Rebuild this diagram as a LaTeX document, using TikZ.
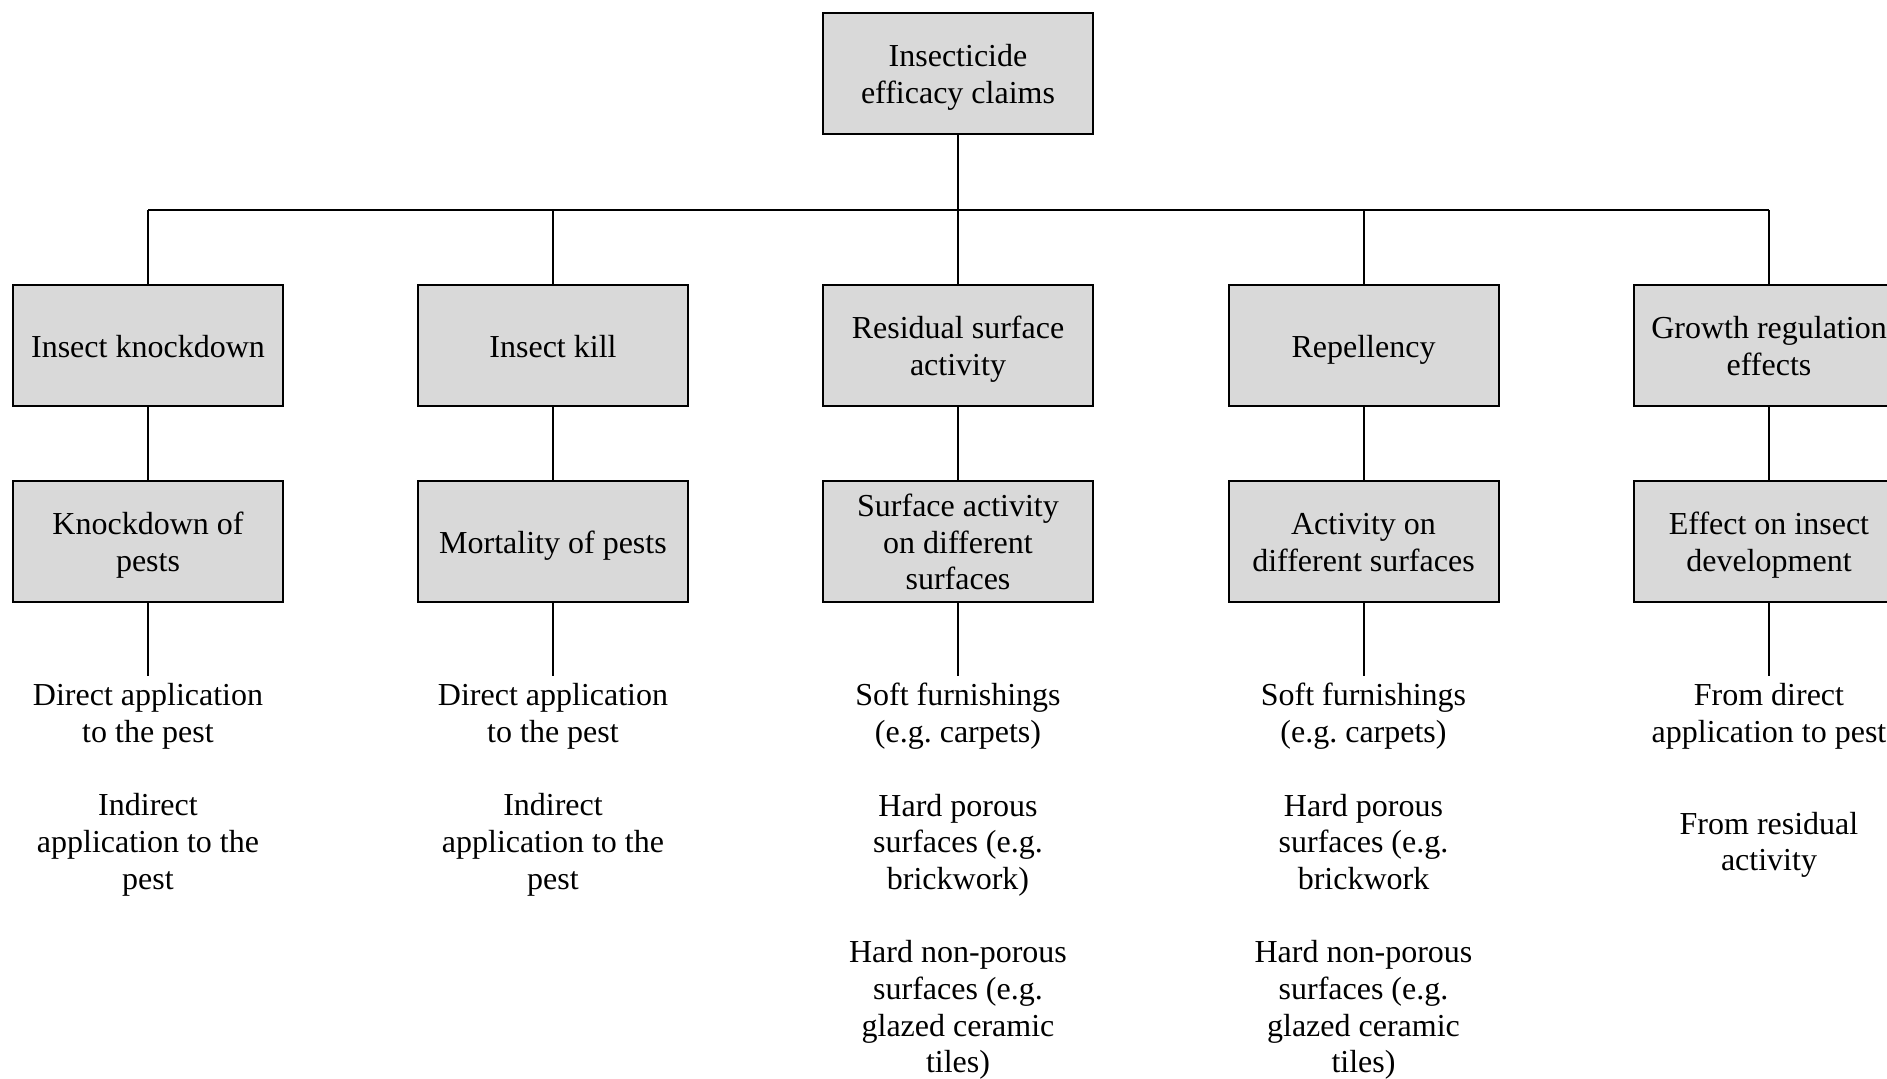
\documentclass[tikz,border=0pt]{standalone}
\usepackage{fontspec}
\setmainfont{Liberation Serif}
\frenchspacing
\newcommand{\topstrut}{\rule{0pt}{16pt}}
\newcommand{\ts}{\rule{0pt}{15.6pt}}
\newcommand{\botstrut}{\rule[-4pt]{0pt}{4pt}}
\begin{document}
\begin{tikzpicture}[x=0.5pt,y=-0.5pt,
  box/.style={draw=black, line width=1pt, fill=boxgray, minimum width=135pt, minimum height=60.5pt, align=center, inner sep=1.5pt, font=\fontsize{16}{18.4}\selectfont, execute at begin node=\topstrut, execute at end node=\botstrut},
  leaf/.style={align=center, inner xsep=0pt, inner ysep=3.5pt, anchor=north, font=\fontsize{16}{18.35}\selectfont},
  conn/.style={line width=1pt}]
\definecolor{boxgray}{HTML}{D9D9D9}
\useasboundingbox (0,0) rectangle (1887,1079);
% top
\node[box] (top) at (958,73.5) {\ts Insecticide\\efficacy claims\botstrut};
\coordinate (bar) at (958,210);
% level 1
\node[box] (a1) at (148,345.5) {Insect knockdown};
\node[box] (b1) at (553,345.5) {Insect kill};
\node[box] (c1) at (958,345.5) {\ts Residual surface\\activity\botstrut};
\node[box] (d1) at (1363.5,345.5) {Repellency};
\node[box] (e1) at (1769,345.5) {\ts Growth regulation\\effects\botstrut};
% level 2
\node[box] (a2) at (148,541.5) {\ts Knockdown of\\pests\botstrut};
\node[box] (b2) at (553,541.5) {Mortality of pests};
\node[box] (c2) at (958,541.5) {\ts Surface activity\\on different\\surfaces\botstrut};
\node[box] (d2) at (1363.5,541.5) {\ts Activity on\\different surfaces\botstrut};
\node[box] (e2) at (1769,541.5) {\ts Effect on insect\\development\botstrut};
% leaves
\node[leaf] (a3) at (148,676) {Direct application\\to the pest\\[18.35pt]Indirect\\application to the\\pest};
\node[leaf] (b3) at (553,676) {Direct application\\to the pest\\[18.35pt]Indirect\\application to the\\pest};
\node[leaf] (c3) at (958,676) {Soft furnishings\\(e.g. carpets)\\[18.35pt]Hard porous\\surfaces (e.g.\\brickwork)\\[18.35pt]Hard non-porous\\surfaces (e.g.\\glazed ceramic\\tiles)};
\node[leaf] (d3) at (1363.5,676) {Soft furnishings\\(e.g. carpets)\\[18.35pt]Hard porous\\surfaces (e.g.\\brickwork\\[18.35pt]Hard non-porous\\surfaces (e.g.\\glazed ceramic\\tiles)};
\node[leaf] (e3) at (1769,676) {From direct\\application to pest\\[27.5pt]From residual\\activity};
% connectors
\draw[conn] (top.south) -- (bar);
\draw[conn] (a1.north |- bar) -- (e1.north |- bar);
\foreach \n in {a,b,c,d,e}{
  \draw[conn] (\n1.north) -- (\n1.north |- bar);
  \draw[conn] (\n1.south) -- (\n2.north);
  \draw[conn] (\n2.south) -- (\n3.north);
}
\end{tikzpicture}
\end{document}
